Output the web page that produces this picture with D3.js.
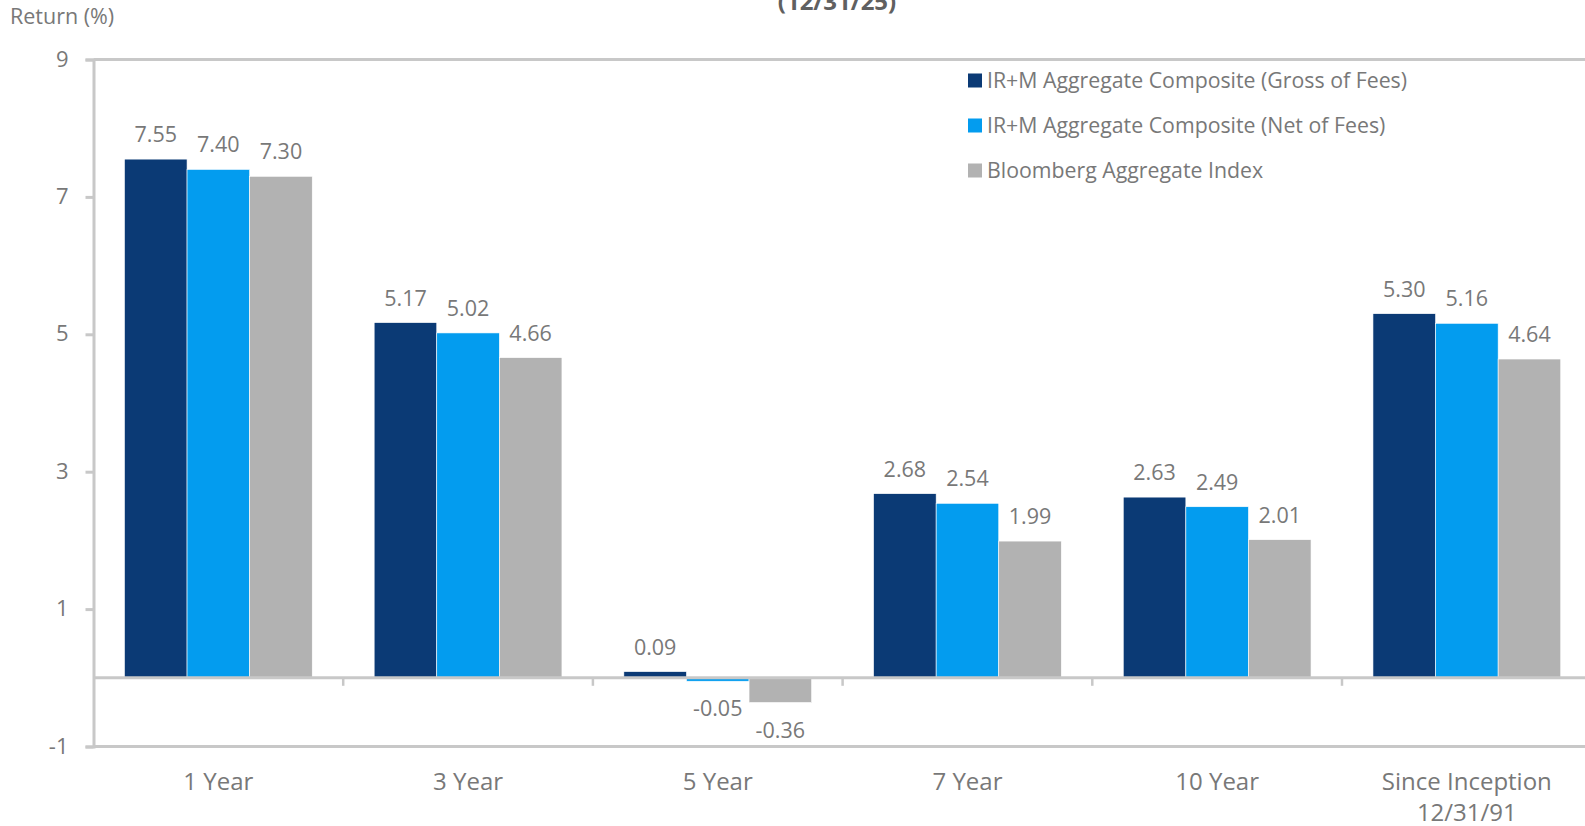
<!DOCTYPE html>
<html>
<head>
<meta charset="utf-8">
<script src="https://cdn.jsdelivr.net/npm/d3@7"></script>
<style>
  html, body { margin: 0; padding: 0; background: #fff; overflow: hidden; }
  svg { display: block; font-family: "Open Sans", sans-serif; }
</style>
</head>
<body>
<svg id="chart" width="1585" height="826"></svg>
<script>
const categories = ["1 Year", "3 Year", "5 Year", "7 Year", "10 Year", "Since Inception\n12/31/91"];
const seriesNames = [
  "IR+M Aggregate Composite (Gross of Fees)",
  "IR+M Aggregate Composite (Net of Fees)",
  "Bloomberg Aggregate Index"
];
const grossValues = [7.55, 5.17, 0.09, 2.68, 2.63, 5.30];
const netValues   = [7.40, 5.02, -0.05, 2.54, 2.49, 5.16];
const indexValues = [7.30, 4.66, -0.36, 1.99, 2.01, 4.64];
const yTicks = [-1, 1, 3, 5, 7, 9];
const titleLine = "(12/31/25)";
const yAxisTitle = "Return (%)";

(function () {
const colors = ["#0b3a75", "#039cef", "#b2b2b2"];
const textColor = "#787878";
const axisColor = "#c8c8c8";
const hyph = s => s.replace("\u2212", "-");

const svg = d3.select("#chart");
const pLeft = 93.5, pRight = 1591.7, pTop = 59.5, pBottom = 746.5;

const seriesValues = [grossValues, netValues, indexValues];
const data = categories.map((c, i) => ({ cat: c, vals: seriesValues.map((s, j) => ({ key: seriesNames[j], v: s[i], j })) }));

const x0 = d3.scaleBand().domain(categories).range([pLeft, pRight]).padding(0);
const bw = x0.bandwidth();
const x1 = d3.scaleBand().domain(seriesNames).range([bw * 0.124, bw * 0.876]).padding(0);
const y = d3.scaleLinear().domain([-1, 9]).range([pBottom, pTop]);

svg.append("text").attr("x", 837).attr("y", 10)
  .attr("text-anchor", "middle").attr("font-size", 24).attr("font-weight", 700)
  .attr("fill", "#606060").text(titleLine);

svg.append("text").attr("x", 10).attr("y", 24)
  .attr("font-size", 21.5).attr("fill", textColor).text(yAxisTitle);

[9, -1].forEach(v => {
  svg.append("line").attr("x1", pLeft).attr("x2", 1585)
    .attr("y1", y(v)).attr("y2", y(v))
    .attr("stroke", axisColor).attr("stroke-width", 3);
});

const yAxis = d3.axisLeft(y).tickValues(yTicks).tickSize(8).tickPadding(17)
  .tickFormat(d => hyph(d3.format("d")(d)));
const gy = svg.append("g").attr("transform", `translate(${pLeft},0)`).call(yAxis);
gy.select(".domain").attr("stroke", axisColor).attr("stroke-width", 3);
gy.selectAll(".tick line").attr("stroke", axisColor).attr("stroke-width", 3);
gy.selectAll(".tick text").attr("fill", textColor).attr("font-size", 22)
  .attr("font-family", "Open Sans, sans-serif").attr("dy", "0.3em");

const groups = svg.append("g").selectAll("g").data(data).join("g")
  .attr("transform", d => `translate(${x0(d.cat)},0)`);

groups.selectAll("rect").data(d => d.vals).join("rect")
  .attr("x", d => x1(d.key))
  .attr("width", x1.bandwidth())
  .attr("y", d => y(Math.max(0, d.v)))
  .attr("height", d => Math.abs(y(d.v) - y(0)))
  .attr("fill", d => colors[d.j])
  .attr("stroke", "#ffffff").attr("stroke-width", 0.6);

groups.selectAll("text.val").data(d => d.vals).join("text")
  .attr("class", "val")
  .attr("x", d => x1(d.key) + x1.bandwidth() / 2)
  .attr("y", d => d.v >= 0 ? y(d.v) - 17 : y(d.v) + 35)
  .attr("text-anchor", "middle").attr("font-size", 21.5).attr("fill", textColor)
  .text(d => hyph(d3.format(".2f")(d.v)));

const gx = svg.append("g").attr("transform", `translate(0,${y(0)})`);
gx.append("line").attr("x1", pLeft).attr("x2", 1585).attr("y1", 0).attr("y2", 0)
  .attr("stroke", axisColor).attr("stroke-width", 3);
categories.slice(1).forEach(c => {
  gx.append("line").attr("x1", x0(c)).attr("x2", x0(c)).attr("y1", 0).attr("y2", 8)
    .attr("stroke", axisColor).attr("stroke-width", 2.5);
});

const cl = svg.append("g").selectAll("text").data(categories).join("text")
  .attr("x", d => x0(d) + bw / 2)
  .attr("y", 790)
  .attr("text-anchor", "middle").attr("font-size", 24).attr("fill", textColor);
cl.each(function(d) {
  const lines = d.split("\n");
  d3.select(this).selectAll("tspan").data(lines).join("tspan")
    .attr("x", x0(d) + bw / 2)
    .attr("dy", (l, i) => i === 0 ? 0 : 30.5)
    .text(l => l);
});

const lg = svg.append("g").selectAll("g").data(seriesNames).join("g")
  .attr("transform", (d, i) => `translate(968,${80.5 + i * 45})`);
lg.append("rect").attr("x", 0).attr("y", -7).attr("width", 14).attr("height", 14)
  .attr("fill", (d, i) => colors[i]);
lg.append("text").attr("x", 19).attr("y", 7.5)
  .attr("font-size", 21.3).attr("fill", textColor).text(d => d);
})();
</script>
</body>
</html>
